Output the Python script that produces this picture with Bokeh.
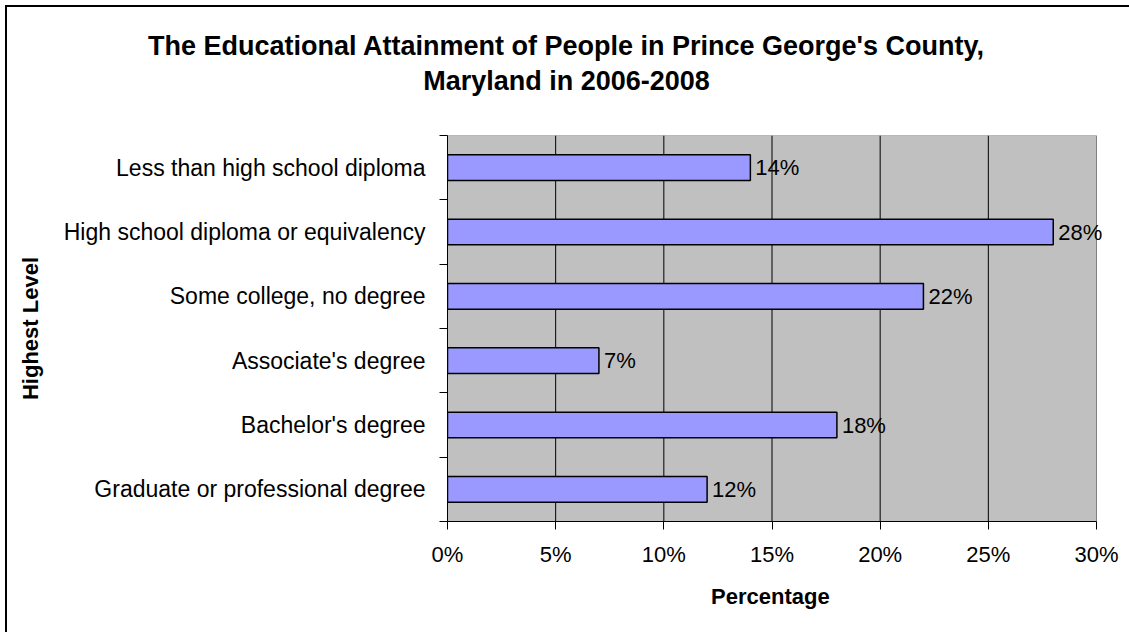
from bokeh.plotting import figure
from bokeh.layouts import column
from bokeh.models import (ColumnDataSource, FixedTicker, Range1d, LabelSet, Label, Title,
                          PrintfTickFormatter, InlineStyleSheet)
from bokeh.core.properties import value
from bokeh.embed import file_html
from bokeh.resources import INLINE

# Educational attainment, Prince George's County, MD (2006-2008)
levels = [
    "Less than high school diploma",
    "High school diploma or equivalency",
    "Some college, no degree",
    "Associate's degree",
    "Bachelor's degree",
    "Graduate or professional degree",
]
percent = [14, 28, 22, 7, 18, 12]
x_ticks = [0, 5, 10, 15, 20, 25, 30]
title_lines = ["The Educational Attainment of People in Prince George's County,",
               "Maryland in 2006-2008"]

FONT = "Liberation Sans"
n = len(levels)
# first level sits at the top of the chart
ypos = [n - 0.5 - i for i in range(n)]

src = ColumnDataSource(dict(
    y=ypos,
    pct=percent,
    lab=[f"{v}%" for v in percent],
))

W, H = 1129, 632
HEAD_H = 110                      # height of the title strip
PLOT_L, PLOT_R, PLOT_T, PLOT_B = 447, 1096, 135, 521
x_min, x_max = x_ticks[0], x_ticks[-1]

# ---- title strip -------------------------------------------------------
head = figure(width=W, height=HEAD_H, output_backend="svg", toolbar_location=None,
              x_axis_type=None, y_axis_type=None,
              x_range=Range1d(0, 1), y_range=Range1d(0, 1),
              min_border=0)
head.outline_line_color = None
head.background_fill_color = "white"
head.border_fill_color = "white"
for txt, cy in zip(title_lines, [45, 80]):
    head.add_layout(Label(x=566, y=HEAD_H - cy, x_units="screen", y_units="screen",
                          text=txt, text_align="center", text_baseline="middle",
                          text_font=FONT, text_font_size="27px",
                          text_font_style="bold", text_color="black"))

# ---- bar chart ---------------------------------------------------------
# let the frame run to the right edge so the value labels are not clipped
x_end = x_min + (x_max - x_min) * (W - PLOT_L) / (PLOT_R - PLOT_L)

p = figure(width=W, height=H - HEAD_H, output_backend="svg", toolbar_location=None,
           x_range=Range1d(x_min, x_end), y_range=Range1d(0, n),
           min_border_left=PLOT_L, min_border_right=0,
           min_border_top=PLOT_T - HEAD_H, min_border_bottom=H - PLOT_B)
p.background_fill_color = "white"
p.border_fill_color = "white"
p.outline_line_color = None

# the title strip keeps its own full-width frame
for fig in (head, p):
    if hasattr(fig, "frame_align"):
        fig.frame_align = False

# grey plot area with its vertical gridlines
p.quad(left=x_min, right=x_max, bottom=0, top=n,
       fill_color="#C0C0C0", line_color="#808080", line_width=1)
grid_x = x_ticks[1:-1]
p.segment(x0=grid_x, x1=grid_x, y0=[0] * len(grid_x), y1=[n] * len(grid_x),
          line_color="black", line_width=1)

p.hbar(y="y", right="pct", left=0, height=0.4, source=src,
       fill_color="#9999FF", line_color="black", line_width=1.5)

p.add_layout(LabelSet(x="pct", y="y", text="lab", source=src, x_offset=5,
                      text_baseline="middle", text_font=value(FONT),
                      text_font_size="22px", text_color="black"))

p.xgrid.grid_line_color = None
p.ygrid.grid_line_color = None

# x axis
xa = p.xaxis[0]
xa.bounds = (x_min, x_max)
xa.ticker = FixedTicker(ticks=x_ticks)
xa.formatter = PrintfTickFormatter(format="%d%%")
xa.major_tick_out = 8
xa.major_tick_in = 0
xa.minor_tick_line_color = None
xa.axis_line_color = "black"
xa.major_tick_line_color = "black"
xa.major_label_text_font = FONT
xa.major_label_text_font_size = "22px"
xa.major_label_text_color = "black"
xa.major_label_standoff = 12

# y axis: labels at category centres, ticks at category boundaries
ya = p.yaxis[0]
ya.ticker = FixedTicker(ticks=ypos, minor_ticks=list(range(n + 1)))
ya.major_label_overrides = {y: lab for y, lab in zip(ypos, levels)}
ya.major_tick_line_color = None
ya.major_tick_out = 0
ya.major_tick_in = 0
ya.minor_tick_out = 8
ya.minor_tick_in = 0
ya.minor_tick_line_color = "black"
ya.axis_line_color = "black"
ya.major_label_text_font = FONT
ya.major_label_text_font_size = "23px"
ya.major_label_text_color = "black"
ya.major_label_standoff = 14
ya.axis_label = "Highest Level"
ya.axis_label_text_font = FONT
ya.axis_label_text_font_size = "22px"
ya.axis_label_text_font_style = "bold"
ya.axis_label_text_color = "black"
ya.axis_label_standoff = 18

# x-axis title, centred under the grey plot area
p.add_layout(Title(text="Percentage", align="left", offset=263.5, standoff=24,
                   text_font=FONT, text_font_size="22px",
                   text_font_style="bold", text_color="black"), "below")

layout = column(head, p, spacing=0)
# chart-area border along the top and left edges
layout.stylesheets = [InlineStyleSheet(css="""
:host { position: relative; }
:host::after {
  content: ""; position: absolute; left: 5px; top: 5px;
  right: -20px; bottom: -20px;
  border-left: 2px solid black; border-top: 2px solid black;
  pointer-events: none;
}
""")]

open("out.html", "w").write(file_html(layout, INLINE))
